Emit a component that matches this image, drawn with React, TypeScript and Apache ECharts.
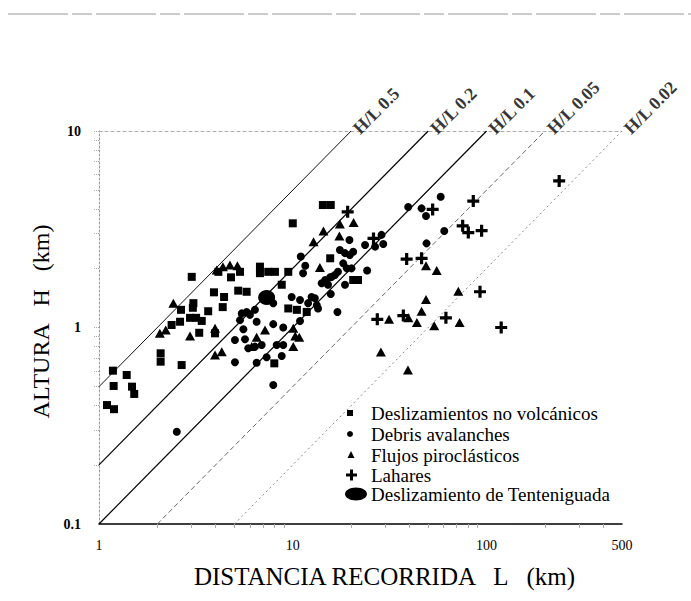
import React, { useEffect, useRef } from 'react';
import * as echarts from 'echarts';

const FONT = '"Liberation Serif", "Times New Roman", Times, serif';

// Axis ticks / labels
const xTickLabels = [1, 10, 100, 500];
const xMinorTicks = [2, 3, 4, 5, 6, 7, 8, 9, 20, 30, 40, 50, 60, 70, 80, 90, 200, 300, 400];
const yTickLabels = [0.1, 1, 10];
const yMinorTicks = [0.2, 0.3, 0.4, 0.5, 0.6, 0.7, 0.8, 0.9, 1, 2, 3, 4, 5, 6, 7, 8, 9, 10];

// H/L reference lines
const ratioLabels = ['H/L 0.5', 'H/L 0.2', 'H/L 0.1', 'H/L 0.05', 'H/L 0.02'];
const ratios = [0.5, 0.2, 0.1, 0.05, 0.02];

const seriesNames = [
  'Deslizamientos no volcánicos',
  'Debris avalanches',
  'Flujos piroclásticos',
  'Lahares',
  'Deslizamiento de Tenteniguada',
];

// [L (km), H (km)]
const deslizamientos = [
  [1.18, 0.603], [1.39, 0.573], [1.19, 0.504], [1.48, 0.5], [1.52, 0.459], [1.1, 0.403], [1.195, 0.384],
  [2.08, 0.739], [2.08, 0.67], [2.67, 0.644],
  [3.01, 1.81], [3.92, 1.51], [4.42, 1.43], [2.65, 1.23], [3.07, 1.33], [3.05, 1.26], [3.66, 1.21], [4.35, 1.27],
  [2.95, 1.12], [3.17, 1.12], [3.39, 1.08], [2.37, 1.03], [2.62, 1.07], [3.29, 0.94], [3.97, 0.934],
  [4.13, 1.92], [4.8, 1.8], [5.34, 1.92], [6.77, 2.04], [6.77, 1.89], [7.47, 1.92], [8.09, 1.92], [9.48, 1.92],
  [8.77, 1.65], [5.23, 1.54], [5.78, 1.52], [9.48, 1.25], [10.5, 1.23], [11.8, 1.2], [8.03, 0.657],
  [10.0, 3.39], [14.3, 4.2], [15.7, 4.2], [15.6, 2.25], [20.5, 1.745], [21.7, 1.745],
];

const debris = [
  [2.52, 0.295], [5.03, 0.665], [6.51, 0.662], [7.93, 0.51], [8.77, 0.716], [11.0, 2.3], [11.6, 2.06],
  [14.1, 1.68], [15.2, 1.65], [15.9, 1.81], [9.87, 1.43], [10.9, 1.38], [12.0, 1.33], [13.0, 1.41],
  [13.5, 1.25], [7.93, 1.33], [6.38, 1.23], [5.45, 1.18], [5.78, 1.2], [6.01, 1.16], [5.34, 1.09],
  [6.51, 1.07], [7.93, 1.04], [8.93, 1.0], [10.9, 1.08], [5.56, 0.98], [5.03, 0.864], [5.67, 0.871],
  [5.89, 0.784], [6.38, 0.799], [6.91, 0.815], [8.26, 0.815], [8.93, 0.815], [7.33, 0.705],
  [19.6, 2.79], [39.4, 4.1], [46.2, 4.04], [48.7, 3.69], [58.0, 4.63], [28.7, 2.96], [29.3, 2.66],
  [26.6, 2.58], [23.6, 2.63], [24.2, 1.95], [60.5, 3.1], [49.0, 2.68], [15.7, 1.48], [17.0, 1.2],
  [17.5, 2.48], [18.6, 2.39], [19.7, 2.34], [20.5, 2.43], [18.2, 2.12], [19.0, 2.0], [20.1, 2.0],
  [17.1, 1.92], [16.5, 1.85], [15.6, 1.8], [14.7, 1.745], [18.6, 1.65], [12.5, 1.43], [13.3, 1.3],
  [11.3, 1.89],
];

const flujos = [
  [4.05, 1.96], [4.36, 2.04], [4.74, 2.08], [5.18, 2.06], [2.42, 1.33], [2.06, 0.934], [2.21, 0.971],
  [2.95, 0.905], [3.97, 0.99], [3.97, 0.725], [4.3, 0.753], [7.19, 0.971], [10.06, 0.99], [10.3, 0.905],
  [10.8, 0.892], [6.51, 0.892], [6.14, 0.8], [10.06, 0.8], [13.8, 2.02], [17.5, 3.36], [20.6, 3.42],
  [14.4, 3.1], [12.8, 2.73], [17.4, 2.92], [48.7, 2.06], [55.3, 1.95], [71.5, 1.53], [48.7, 1.39],
  [46.2, 1.21], [31.4, 1.1], [39.5, 1.12], [43.7, 1.06], [53.7, 1.02], [72.6, 1.06], [28.5, 0.75],
  [39.3, 0.608],
];

const lahares = [
  [19.2, 3.88], [26.1, 2.84], [52.7, 3.99], [85.4, 4.4], [75.3, 3.29], [80.5, 3.04], [94.3, 3.11],
  [38.7, 2.23], [46.2, 2.25], [92.5, 1.52], [27.3, 1.1], [37.2, 1.15], [61.7, 1.12], [119, 1.0],
  [237, 5.57],
];

const tenteniguada = [[7.33, 1.42]];

const PLUS = 'path://M4.4,0h3.2v4.4h4.4v3.2h-4.4v4.4h-3.2v-4.4h-4.4v-3.2h4.4z';

const lineStyles = [
  { color: '#111', width: 1, type: 'solid' },
  { color: '#000', width: 1.2, type: 'solid' },
  { color: '#000', width: 1.2, type: 'solid' },
  { color: '#666', width: 1, type: [5, 3] },
  { color: '#888', width: 1, type: [2, 3] },
];

function buildOption() {
  const refLines = ratios.map((r, i) => {
    const start = r >= 0.1 ? [1, r] : [0.1 / r, 0.1];
    const end = [10 / r, 10];
    return {
      type: 'line',
      data: [start, end],
      symbol: 'none',
      silent: true,
      lineStyle: lineStyles[i],
      z: 1,
    };
  });

  const labelSeries = {
    type: 'scatter',
    symbolSize: 0,
    clip: false,
    silent: true,
    itemStyle: { color: '#000' },
    data: ratios.map((r, i) => ({ name: ratioLabels[i], value: [10 / r, 10] })),
    label: {
      show: true,
      position: 'right',
      distance: 5,
      rotate: 45,
      formatter: (p: any) => p.name,
      fontFamily: FONT,
      fontSize: 18,
      fontWeight: 'bold',
      color: '#000',
      textBorderWidth: 0,
    },
    z: 3,
  };

  const scatterBase = { type: 'scatter', itemStyle: { color: '#000', opacity: 1 }, z: 4 };

  const labelFmt = (v: number) => (v < 1 ? v.toFixed(1) : String(Math.round(v)));

  const legendRows = [413, 434, 455, 475, 494];
  const legendX = 371;

  return {
    animation: false,
    backgroundColor: '#fff',
    grid: { left: 99, top: 131, width: 523, height: 393 },
    xAxis: [
      {
        type: 'log',
        logBase: 10,
        min: 1,
        max: 500,
        position: 'bottom',
        name: 'DISTANCIA RECORRIDA   L   (km)',
        nameLocation: 'middle',
        nameGap: 40,
        nameTextStyle: { fontFamily: FONT, fontSize: 25, color: '#000', padding: [0, 0, 0, 48] },
        axisLine: { show: true, onZero: false, lineStyle: { color: '#000', width: 1.5 } },
        axisTick: { show: true, customValues: xMinorTicks, length: 4, lineStyle: { color: '#aaa' } },
        axisLabel: {
          customValues: xTickLabels,
          margin: 14,
          fontFamily: FONT,
          fontSize: 14,
          color: '#000',
          formatter: labelFmt,
        },
        splitLine: { show: false },
      },
      {
        type: 'log',
        logBase: 10,
        min: 1,
        max: 500,
        position: 'top',
        axisLine: { show: true, onZero: false, lineStyle: { color: '#aaa', width: 1, type: [3, 3] } },
        axisTick: { show: false },
        axisLabel: { show: false },
        splitLine: { show: false },
      },
    ],
    yAxis: {
      type: 'log',
      logBase: 10,
      min: 0.1,
      max: 10,
      name: 'ALTURA   H   (km)',
      nameLocation: 'middle',
      nameRotate: 90,
      nameGap: 42,
      nameTextStyle: { fontFamily: FONT, fontSize: 24, color: '#000', padding: [0, 0, 0, 12] },
      axisLine: { show: true, onZero: false, lineStyle: { color: '#999', width: 1, type: [2, 2] } },
      axisTick: { show: true, customValues: yMinorTicks, length: 6, lineStyle: { color: '#aaa', type: [1, 1] } },
      axisLabel: {
        customValues: yTickLabels,
        margin: 18,
        fontFamily: FONT,
        fontSize: 14,
        fontWeight: 'bold',
        color: '#000',
        formatter: labelFmt,
      },
      splitLine: { show: false },
    },
    series: [
      ...refLines,
      labelSeries,
      { ...scatterBase, name: seriesNames[0], data: deslizamientos, symbol: 'rect', symbolSize: 8 },
      { ...scatterBase, name: seriesNames[1], data: debris, symbol: 'circle', symbolSize: 8 },
      { ...scatterBase, name: seriesNames[2], data: flujos, symbol: 'triangle', symbolSize: [10, 9] },
      { ...scatterBase, name: seriesNames[3], data: lahares, symbol: PLUS, symbolSize: 12 },
      { ...scatterBase, name: seriesNames[4], data: tenteniguada, symbol: 'circle', symbolSize: [17, 15] },
    ],
    graphic: [
      {
        type: 'line',
        shape: { x1: 8, y1: 14, x2: 691, y2: 14 },
        style: { stroke: '#999', lineWidth: 1, lineDash: [60, 4, 20, 4] },
        silent: true,
      },
      { type: 'rect', shape: { x: 347, y: legendRows[0] - 3, width: 6, height: 6 }, style: { fill: '#000' } },
      { type: 'circle', shape: { cx: 350, cy: legendRows[1], r: 3 }, style: { fill: '#000' } },
      {
        type: 'polygon',
        shape: { points: [[351, legendRows[2] - 4], [347.5, legendRows[2] + 3], [354.5, legendRows[2] + 3]] },
        style: { fill: '#000' },
      },
      { type: 'rect', shape: { x: 346, y: legendRows[3] - 1.5, width: 11, height: 3 }, style: { fill: '#000' } },
      { type: 'rect', shape: { x: 350, y: legendRows[3] - 5.5, width: 3, height: 11 }, style: { fill: '#000' } },
      { type: 'ellipse', shape: { cx: 356, cy: legendRows[4], rx: 11, ry: 6.5 }, style: { fill: '#000' } },
      ...seriesNames.map((n, i) => ({
        type: 'text',
        x: legendX,
        y: legendRows[i],
        style: {
          text: n,
          fontFamily: FONT,
          fontSize: 19,
          fill: '#000',
          verticalAlign: 'middle',
          align: 'left',
        },
      })),
    ],
  };
}

export default function App() {
  const ref = useRef<HTMLDivElement>(null);
  useEffect(() => {
    const chart = echarts.init(ref.current as HTMLDivElement, null, { renderer: 'svg' });
    chart.setOption(buildOption() as any);
    return () => chart.dispose();
  }, []);
  return (
    <div
      ref={ref}
      style={{ position: 'fixed', left: 0, top: 0, width: 691, height: 601, background: '#fff' }}
    />
  );
}
